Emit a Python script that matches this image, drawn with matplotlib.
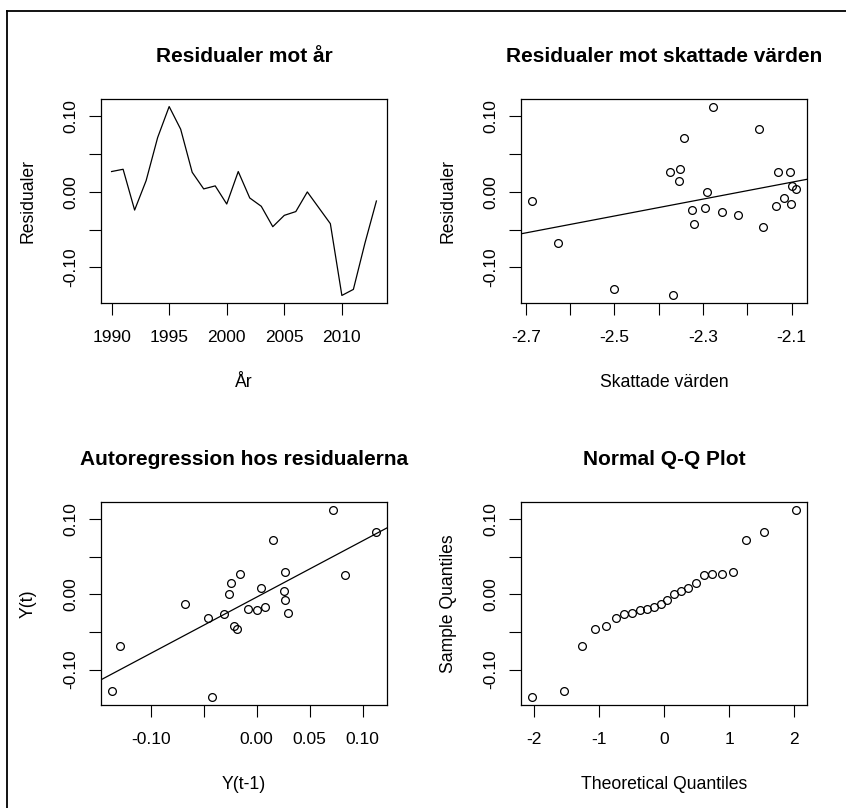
import numpy as np
import matplotlib
matplotlib.use("Agg")
import matplotlib.pyplot as plt
from matplotlib.lines import Line2D
from statistics import NormalDist

plt.rcParams['font.family'] = ['Liberation Sans', 'DejaVu Sans']

# ---- data ----
years = list(range(1990, 2014))
residuals = [0.027, 0.030, -0.024, 0.015, 0.072, 0.113, 0.083, 0.026, 0.004, 0.008,
             -0.016, 0.027, -0.008, -0.019, -0.046, -0.031, -0.026, 0.000, -0.021, -0.042,
             -0.137, -0.129, -0.068, -0.012]
fitted = [-2.375, -2.352, -2.325, -2.354, -2.343, -2.278, -2.174, -2.103, -2.089, -2.100,
          -2.102, -2.131, -2.116, -2.136, -2.165, -2.221, -2.258, -2.291, -2.296, -2.321,
          -2.367, -2.502, -2.627, -2.687]

year_ticks = [1990, 1995, 2000, 2005, 2010]
res_ticks = [-0.10, -0.05, 0.00, 0.05, 0.10]
res_labels = ['-0.10', '', '0.00', '', '0.10']
fit_ticks = [-2.7, -2.6, -2.5, -2.4, -2.3, -2.2, -2.1]
fit_labels = ['-2.7', '', '-2.5', '', '-2.3', '', '-2.1']
ar_labels = ['-0.10', '', '0.00', '0.05', '0.10']
qq_ticks = [-2, -1, 0, 1, 2]

titles = ["Residualer mot år", "Residualer mot skattade värden",
          "Autoregression hos residualerna", "Normal Q-Q Plot"]
xlabels = ["År", "Skattade värden", "Y(t-1)", "Theoretical Quantiles"]
ylabels = ["Residualer", "Residualer", "Y(t)", "Sample Quantiles"]

W, H = 846, 808
fig = plt.figure(figsize=(W / 100, H / 100), dpi=100)

def rect(l, t, r, b):
    return [l / W, 1 - b / H, (r - l) / W, (b - t) / H]

axes = [fig.add_axes(rect(101, 99, 387, 303)),
        fig.add_axes(rect(521, 99, 807, 303)),
        fig.add_axes(rect(101, 502, 387, 705)),
        fig.add_axes(rect(521, 502, 807, 705))]

def rlim(v):
    lo, hi = min(v), max(v)
    d = (hi - lo) * 0.04
    return lo - d, hi + d

res = np.array(residuals)
fit = np.array(fitted)
yrs = np.array(years)

lw = 0.9
circ = dict(linestyle='none', marker='o', markerfacecolor='none',
            markeredgecolor='black', markersize=5.6, markeredgewidth=0.9)

# Panel 1
ax = axes[0]
ax.plot(yrs, res, color='black', lw=lw)
ax.set_xlim(rlim(yrs))
ax.set_xticks(year_ticks)
ax.set_xticklabels([str(y) for y in year_ticks])

# Panel 2
ax = axes[1]
ax.plot(fit, res, **circ)
m, b = np.polyfit(fit, res, 1)
ax.axline((0, b), slope=m, color='black', lw=lw)
ax.set_xlim(rlim(fit))
ax.set_xticks(fit_ticks)
ax.set_xticklabels(fit_labels)

# Panel 3
ax = axes[2]
x_prev = res[:-1]
y_now = res[1:]
ax.plot(x_prev, y_now, **circ)
m, b = np.polyfit(x_prev, y_now, 1)
ax.axline((0, b), slope=m, color='black', lw=lw)
ax.set_xlim(rlim(x_prev))
ax.set_xticks(res_ticks)
ax.set_xticklabels(ar_labels)

# Panel 4
ax = axes[3]
n = len(res)
nd = NormalDist()
theo = np.array([nd.inv_cdf((i - 0.5) / n) for i in range(1, n + 1)])
samp = np.sort(res)
ax.plot(theo, samp, **circ)
ax.set_xlim(rlim(theo))
ax.set_xticks(qq_ticks)
ax.set_xticklabels([str(t) for t in qq_ticks])

for i, ax in enumerate(axes):
    ax.set_ylim(rlim(res))
    ax.set_yticks(res_ticks)
    ax.set_yticklabels(res_labels, rotation=90, va='center')
    ax.tick_params(direction='out', length=8.6, width=0.8, labelsize=12.5,
                   colors='black')
    ax.tick_params(axis='x', pad=10.5)
    ax.tick_params(axis='y', pad=7.5)
    for s in ax.spines.values():
        s.set_linewidth(0.9)
    ax.set_title(titles[i], fontsize=15, fontweight='bold', pad=26.5)
    ax.set_xlabel(xlabels[i], fontsize=12.7, labelpad=21)
    ax.set_ylabel(ylabels[i], fontsize=12.7, labelpad=19.5)

# frame (top and left edges)
fig.add_artist(Line2D([7 / W, 7 / W], [0, 1 - 10.5 / H], color='black', lw=1.3,
                      transform=fig.transFigure))
fig.add_artist(Line2D([7 / W, 1], [1 - 10.5 / H, 1 - 10.5 / H], color='black', lw=1.3,
                      transform=fig.transFigure))

fig.savefig("out.png", dpi=100)
